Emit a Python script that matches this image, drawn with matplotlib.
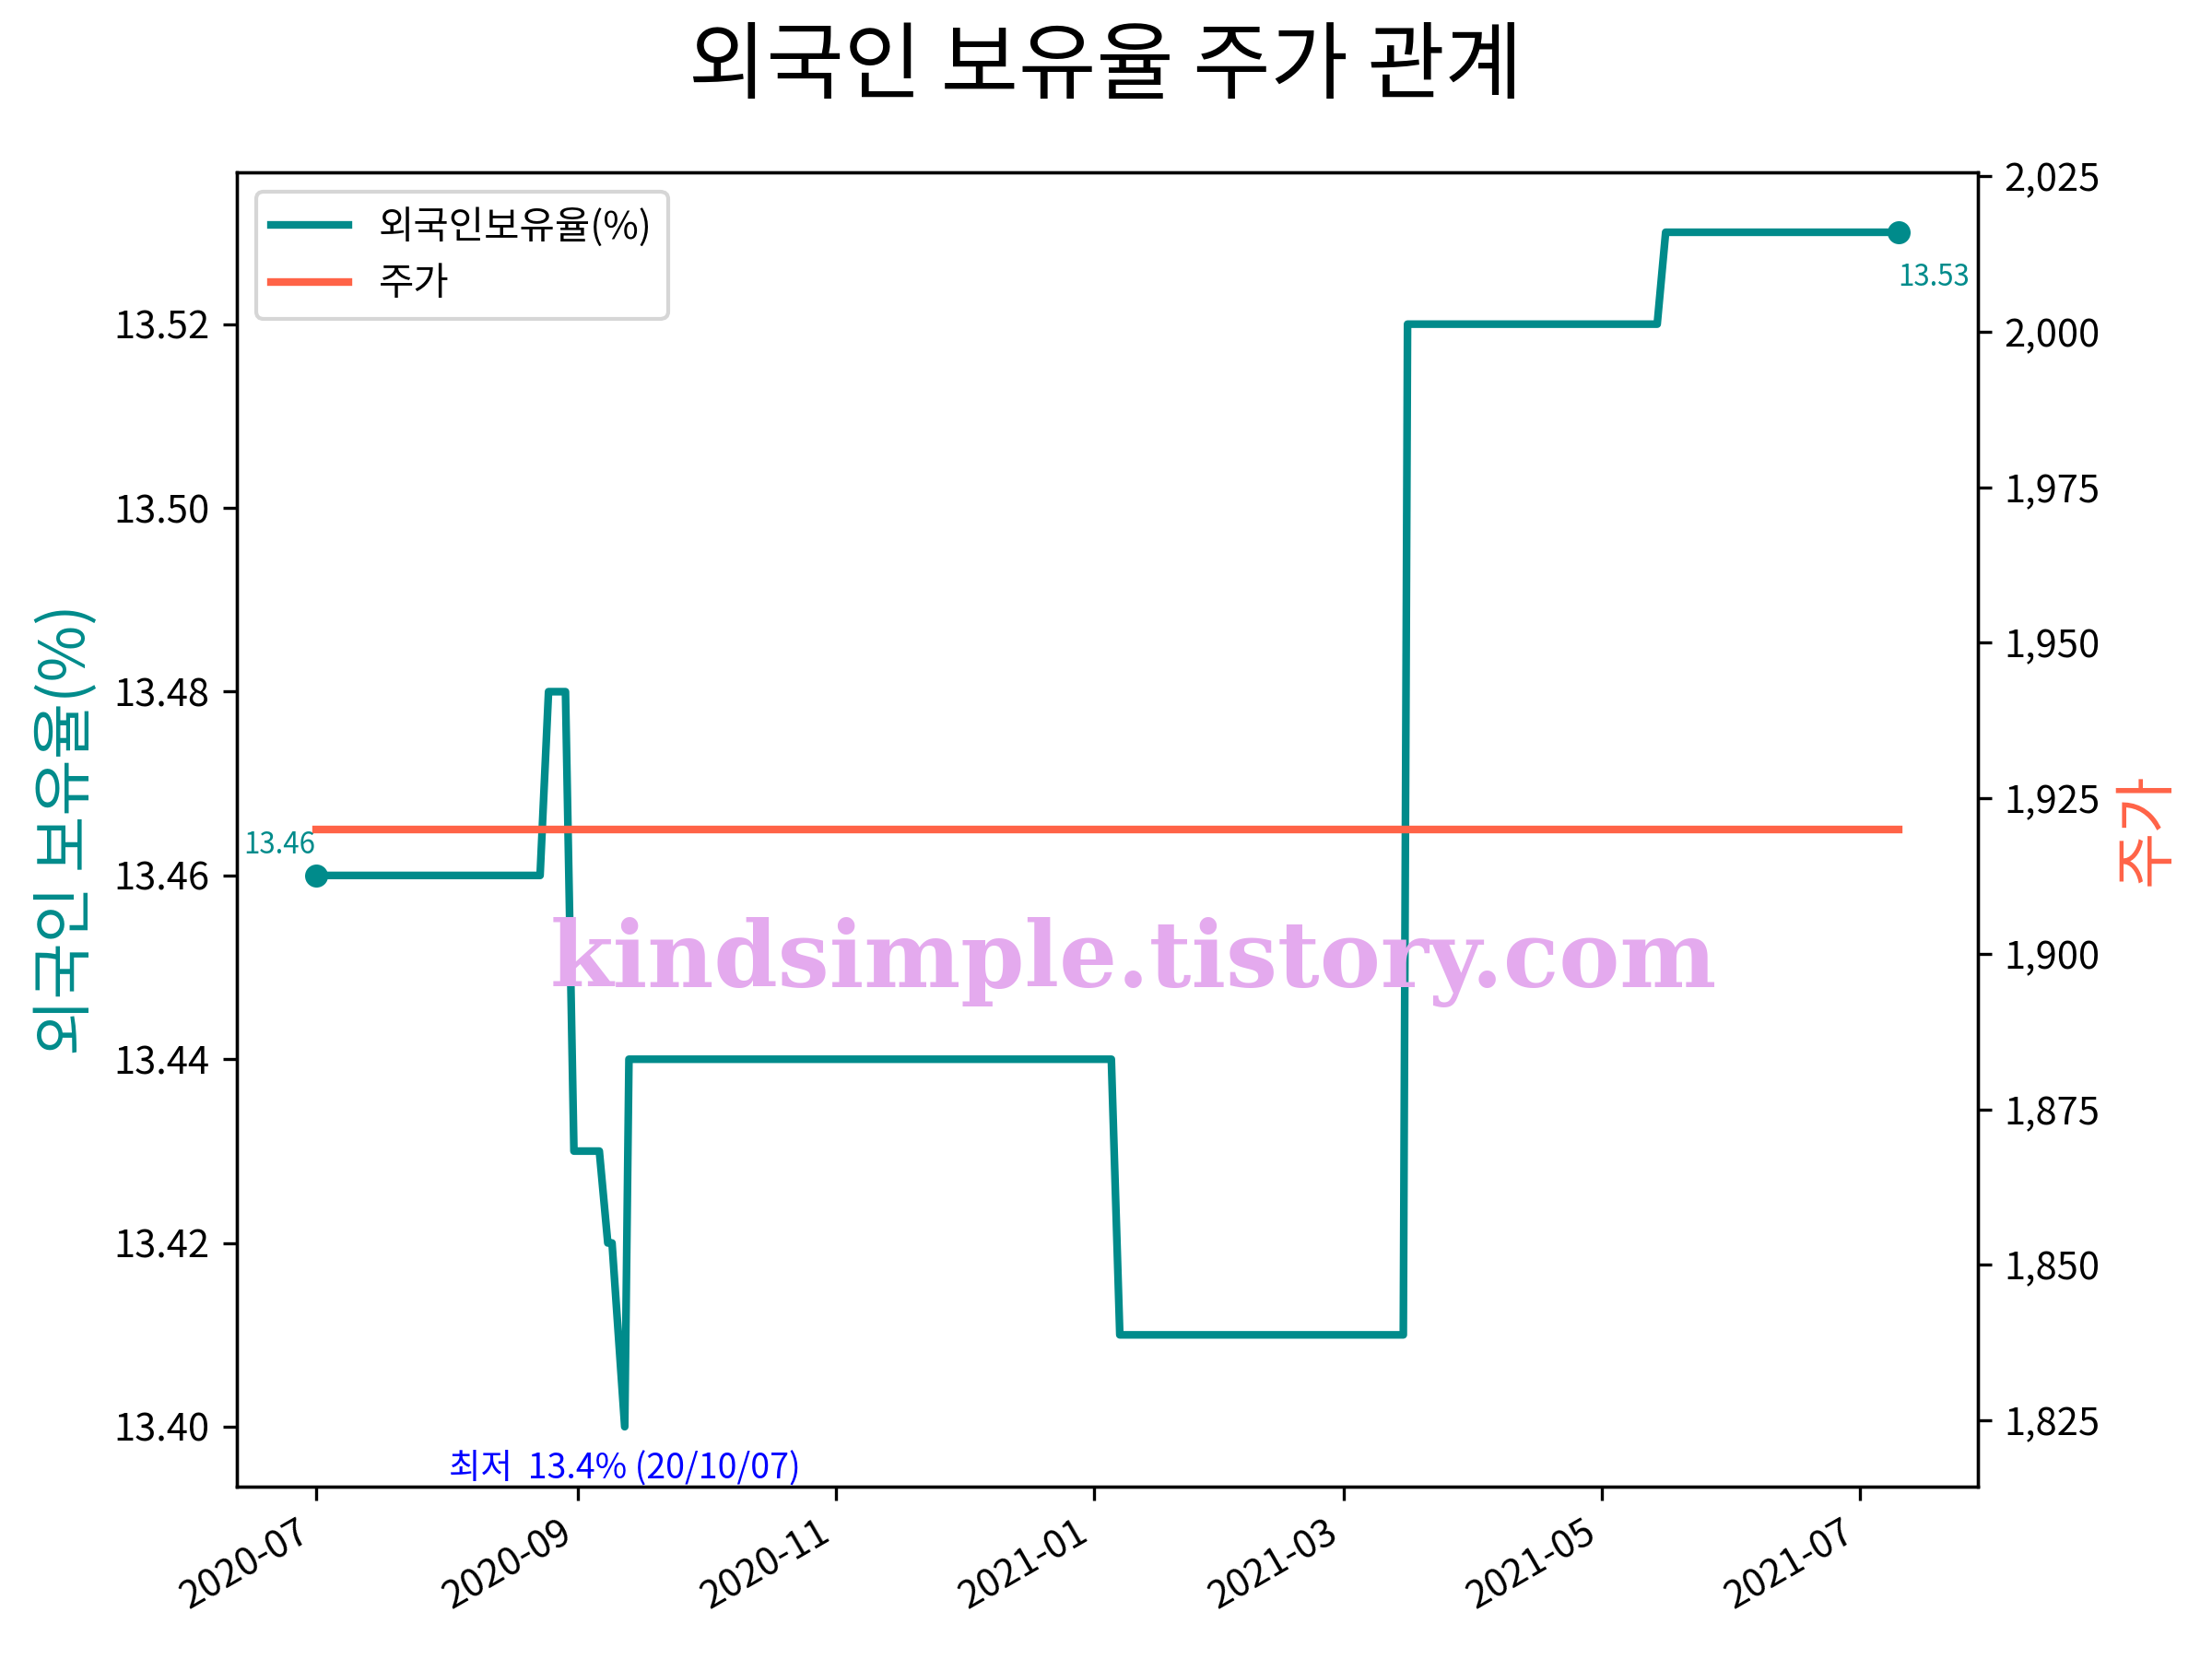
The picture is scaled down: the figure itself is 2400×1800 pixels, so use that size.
import matplotlib
matplotlib.use("Agg")
import matplotlib.pyplot as plt
import matplotlib.dates as mdates
from matplotlib.ticker import FuncFormatter, MultipleLocator
import pandas as pd

plt.rcParams['font.family'] = ['Noto Sans CJK KR', 'DejaVu Sans']
plt.rcParams['axes.unicode_minus'] = False

# ---- data ----
dates = ["2020-07-01", "2020-08-23", "2020-08-25", "2020-08-29", "2020-08-31",
         "2020-09-06", "2020-09-08", "2020-09-09", "2020-09-12", "2020-09-13",
         "2021-01-05", "2021-01-07", "2021-03-15", "2021-03-16", "2021-05-14",
         "2021-05-16", "2021-07-10"]
foreign_ratio = [13.46, 13.46, 13.48, 13.48, 13.43,
                 13.43, 13.42, 13.42, 13.40, 13.44,
                 13.44, 13.41, 13.41, 13.52, 13.52,
                 13.53, 13.53]
price = [1920] * len(dates)

title = "외국인 보유율 주가 관계"
label_ratio = "외국인보유율(%)"
label_price = "주가"
ylabel_left = "외국인 보유율(%)"
ylabel_right = "주가"
min_text = "최저  13.4% (20/10/07)"
watermark = "kindsimple.tistory.com"

x = pd.to_datetime(dates)

c_ratio = '#008b8b'
c_price = '#ff6347'

fig, ax1 = plt.subplots(figsize=(8, 6), dpi=300)
ax2 = ax1.twinx()

l1, = ax1.plot(x, foreign_ratio, color=c_ratio, lw=2, label=label_ratio)
l2, = ax2.plot(x, price, color=c_price, lw=2, label=label_price)

# end markers
ax1.plot([x[0], x[-1]], [foreign_ratio[0], foreign_ratio[-1]], 'o',
         color=c_ratio, ms=5)

ax1.annotate(f"{foreign_ratio[0]:.2f}", xy=(x[0], foreign_ratio[0]),
             xytext=(0, 4), textcoords='offset points', ha='right', va='bottom',
             color=c_ratio, fontsize=7.5)
ax1.annotate(f"{foreign_ratio[-1]:.2f}", xy=(x[-1], foreign_ratio[-1]),
             xytext=(0, -8), textcoords='offset points', ha='left', va='top',
             color=c_ratio, fontsize=7.5)
imin = foreign_ratio.index(min(foreign_ratio))
ax1.annotate(min_text, xy=(x[imin], foreign_ratio[imin]),
             xytext=(0, -6.5), textcoords='offset points', ha='center', va='top',
             color='blue', fontsize=9)

ax1.set_ylabel(ylabel_left, color=c_ratio, fontsize=16)
ax2.set_ylabel(ylabel_right, color=c_price, fontsize=16)

ax1.yaxis.set_major_locator(MultipleLocator(0.02))
ax1.yaxis.set_major_formatter(FuncFormatter(lambda v, p: f"{v:.2f}"))
ax2.yaxis.set_major_locator(MultipleLocator(25))
ax2.yaxis.set_major_formatter(FuncFormatter(lambda v, p: f"{v:,.0f}"))

ax1.xaxis.set_major_locator(mdates.MonthLocator(bymonth=[1, 3, 5, 7, 9, 11]))
ax1.xaxis.set_major_formatter(mdates.DateFormatter('%Y-%m'))
for lab in ax1.get_xticklabels():
    lab.set_rotation(30)
    lab.set_ha('right')

ax1.legend(handles=[l1, l2], loc='upper left')

fig.suptitle(title, fontsize=22, y=0.985)
fig.subplots_adjust(left=0.107, right=0.894, bottom=0.104, top=0.896)

fig.text(0.5125, 0.42, watermark, ha='center', va='center',
         fontsize=23.8, fontweight='bold', family='DejaVu Serif',
         color='#e4aaee')

fig.savefig('out.png', dpi=300)
